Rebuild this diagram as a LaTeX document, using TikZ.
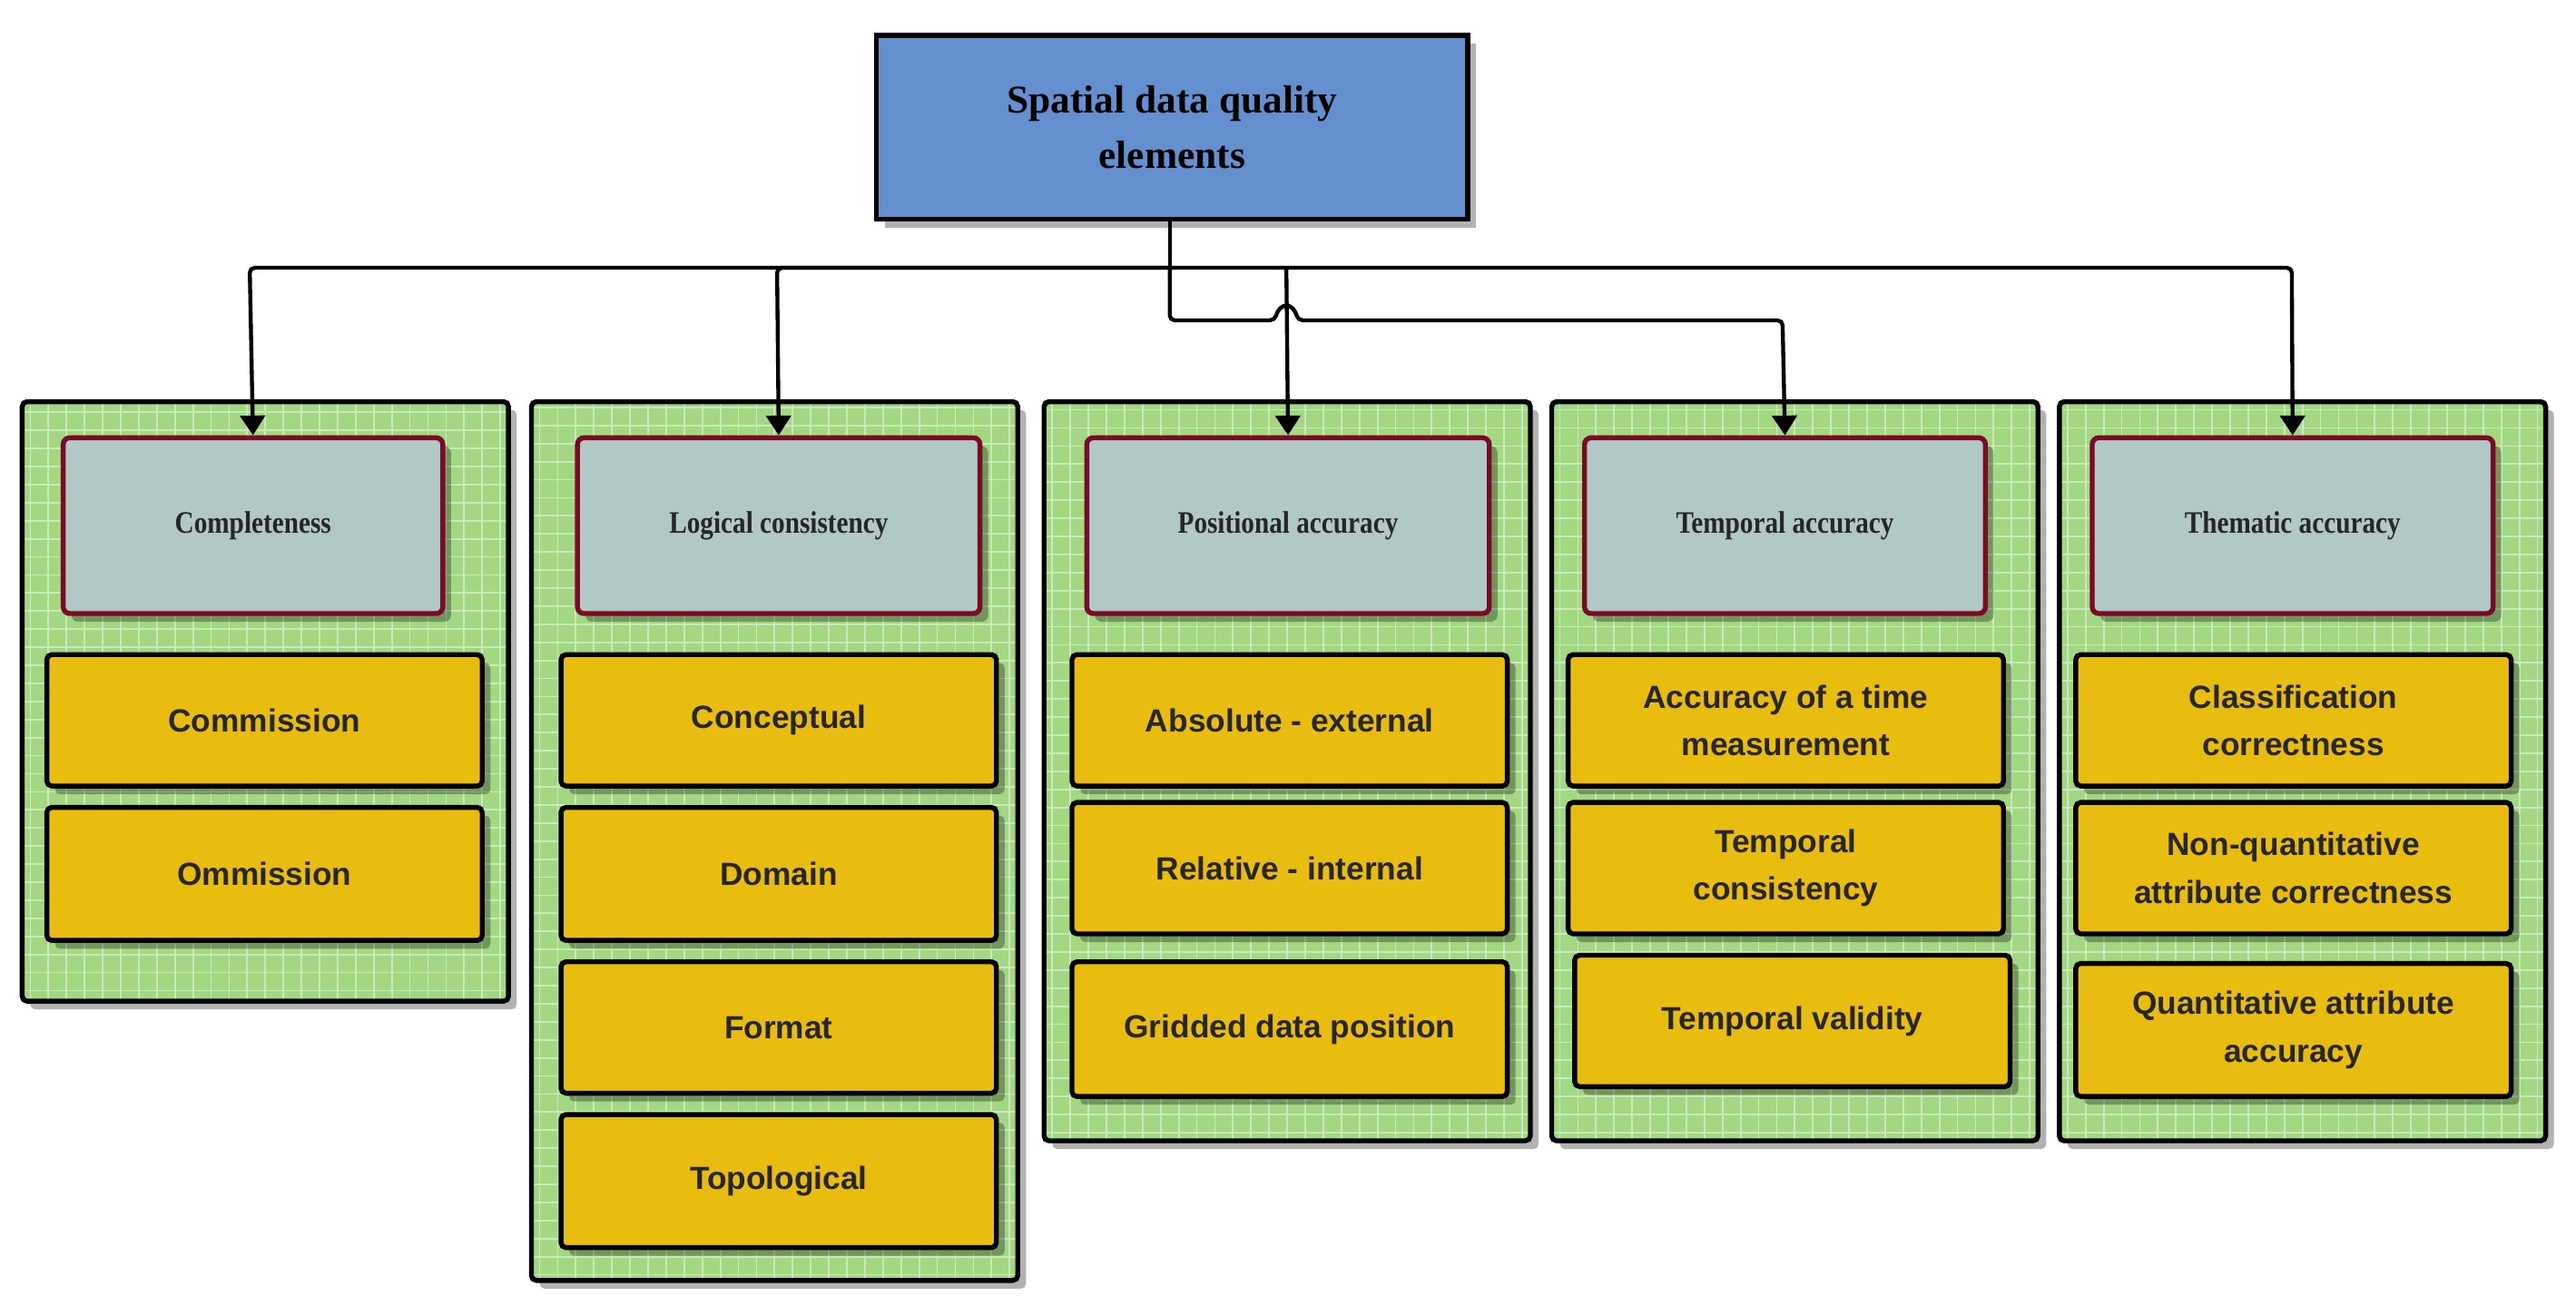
\documentclass[tikz,border=0pt]{standalone}
\usepackage{fontspec}
\setmainfont{Liberation Serif}
\newfontfamily\lsans{Liberation Sans}
\usetikzlibrary{arrows.meta,shadows}
\definecolor{pgreen}{HTML}{A2D882}
\definecolor{hteal}{HTML}{B0C9C5}
\definecolor{hred}{HTML}{7A0A25}
\definecolor{iyel}{HTML}{E9BC10}
\definecolor{tblue}{HTML}{6590CF}
\tikzset{
  x=1pt,y=-1pt,
  shd/.style={drop shadow={shadow xshift=5pt,shadow yshift=-5pt,opacity=0.3,fill=black}},
  panel/.style={draw=black,line width=3pt,fill=pgreen,rounded corners=3pt,shd,
    path picture={\draw[white,opacity=0.45,line width=1pt] (path picture bounding box.north west) grid[step=11pt] (path picture bounding box.south east);}},
  head/.style={draw=hred,line width=3pt,fill=hteal,rounded corners=4pt,shd,
    font=\bfseries\fontsize{19}{22}\selectfont\addfontfeatures{FakeStretch=0.85},text=black!85},
  item/.style={draw=black,line width=3pt,fill=iyel,rounded corners=3pt,shd},
  itxt/.style={font=\lsans\bfseries\fontsize{19.5}{29}\selectfont,align=center,text=black!85,inner sep=0pt},
  arr/.style={line width=2.4pt,-{Triangle[width=15pt,length=12pt]}},
}
\newcommand{\pbx}[5]{\node[panel,minimum width=#3-#2,minimum height=#5-#4,anchor=north west,inner sep=0pt] (#1) at (#2,#4) {};}
\newcommand{\itm}[6]{\node[item,minimum width=#3-#2,minimum height=#5-#4,anchor=north west,inner sep=0pt] (#1) at (#2,#4) {};
  \node[itxt] (#1t) at (#1.center) {#6};}
\begin{document}
\begin{tikzpicture}
\useasboundingbox[fill=white] (0,0) rectangle (1568,795);
% top
\node[draw=black,line width=3pt,fill=tblue,shd,minimum width=360pt,minimum height=112pt,anchor=north west,inner sep=0pt,
  font=\bfseries\fontsize{24}{34}\selectfont,align=center] (top) at (532,20) {Spatial data quality\\elements};
% panels
\pbx{p1}{12}{308}{243}{608}
\pbx{p2}{322}{618}{243}{778}
\pbx{p3}{634}{930}{243}{693}
\pbx{p4}{943}{1239}{243}{693}
\pbx{p5}{1252}{1548}{243}{693}
% headers
\node[head,minimum width=231pt,minimum height=107pt,anchor=north west] (h1) at (37,265) {Completeness};
\node[head,minimum width=245pt,minimum height=107pt,anchor=north west] (h2) at (350,265) {Logical consistency};
\node[head,minimum width=245pt,minimum height=107pt,anchor=north west] (h3) at (660,265) {Positional accuracy};
\node[head,minimum width=244pt,minimum height=107pt,anchor=north west] (h4) at (963,265) {Temporal accuracy};
\node[head,minimum width=244pt,minimum height=107pt,anchor=north west] (h5) at (1272,265) {Thematic accuracy};
% items
\itm{a1}{27}{292}{397}{477}{Commission}
\itm{a2}{27}{292}{490}{571}{Ommission}
\itm{b1}{340}{605}{397}{477}{Conceptual}
\itm{b2}{340}{605}{490}{571}{Domain}
\itm{b3}{340}{605}{584}{664}{Format}
\itm{b4}{340}{605}{677}{758}{Topological}
\itm{c1}{651}{916}{397}{477}{Absolute - external}
\itm{c2}{651}{916}{487}{567}{Relative - internal}
\itm{c3}{651}{916}{584}{666}{Gridded data position}
\itm{d1}{953}{1218}{397}{477}{Accuracy of a time\\measurement}
\itm{d2}{953}{1218}{487}{567}{Temporal\\consistency}
\itm{d3}{957}{1222}{580}{660}{Temporal validity}
\itm{e1}{1262}{1527}{397}{477}{Classification\\correctness}
\itm{e2}{1262}{1527}{487}{567}{Non-quantitative\\attribute correctness}
\itm{e3}{1262}{1527}{585}{666}{Quantitative attribute\\accuracy}
% connectors
\coordinate (j) at (712,163);
\draw[line width=2.4pt] (top.south -| j) -- (j);
\draw[arr,rounded corners=3pt] (j) -- (152,163) -- (h1.north);
\draw[arr,rounded corners=3pt] (j) -- (473,163) -- (h2.north);
\draw[arr] (783,163) -- (h3.north);
\draw[arr,rounded corners=3pt] (j) -- (1395,163) -- (h5.north);
\draw[arr,rounded corners=3pt] (j) -- (712,195) -- (776,195) .. controls (779,184) and (787,184) .. (790,195) -- (1085,195) -- (h4.north);
\end{tikzpicture}
\end{document}
